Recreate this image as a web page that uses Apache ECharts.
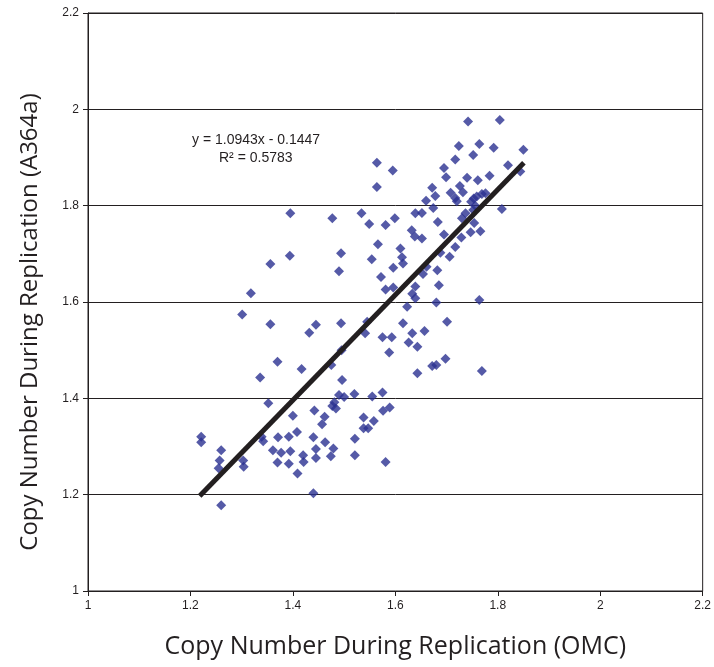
<!DOCTYPE html>
<html>
<head>
<meta charset="utf-8">
<script src="https://cdn.jsdelivr.net/npm/echarts@6/dist/echarts.min.js"></script>
<style>
html,body{margin:0;padding:0;background:#fff;}
#chart{width:714px;height:667px;}
</style>
</head>
<body>
<div id="chart"></div>
<script>
// Scatter values (OMC copy number, A364a copy number)
var omc = [1.394,1.356,1.318,1.301,1.356,1.370,1.336,1.417,1.352,1.400,1.408,1.221,1.221,1.260,1.257,1.255,1.303,1.304,1.339,1.342,
1.371,1.392,1.361,1.377,1.395,1.370,1.392,1.409,1.420,1.421,1.260,1.440,1.445,1.445,1.442,1.462,1.457,1.463,1.479,1.474,
1.481,1.484,1.477,1.490,1.520,1.496,1.521,1.521,1.440,1.445,1.494,1.432,1.545,1.541,1.615,1.633,1.575,1.593,1.626,1.643,
1.588,1.495,1.475,1.643,1.555,1.575,1.538,1.558,1.576,1.589,1.538,1.547,1.581,1.500,1.564,1.595,1.564,1.477,1.534,1.549,
1.581,1.599,1.639,1.632,1.638,1.652,1.566,1.494,1.554,1.610,1.613,1.615,1.596,1.490,1.572,1.581,1.596,1.639,1.633,1.639,
1.623,1.395,1.724,1.764,1.792,1.850,1.752,1.717,1.820,1.844,1.695,1.699,1.740,1.761,1.784,1.726,1.672,1.678,1.708,1.717,
1.732,1.720,1.753,1.759,1.769,1.776,1.748,1.756,1.752,1.660,1.674,1.808,1.652,1.683,1.737,1.730,1.754,1.747,1.766,1.695,
1.729,1.717,1.706,1.688,1.661,1.682,1.654,1.685,1.680,1.764,1.701,1.657,1.698,1.672,1.680,1.769,1.742,1.804];
var a364a = [1.696,1.679,1.618,1.574,1.554,1.476,1.443,1.461,1.390,1.364,1.330,1.320,1.309,1.292,1.271,1.255,1.271,1.258,1.320,1.311,
1.319,1.320,1.292,1.287,1.290,1.267,1.264,1.244,1.282,1.268,1.178,1.319,1.295,1.276,1.375,1.362,1.346,1.309,1.296,1.280,
1.392,1.379,1.384,1.407,1.409,1.438,1.316,1.282,1.203,1.553,1.556,1.536,1.559,1.535,1.556,1.535,1.527,1.527,1.516,1.507,
1.495,1.500,1.469,1.452,1.404,1.412,1.360,1.353,1.374,1.381,1.338,1.338,1.268,1.403,1.889,1.873,1.839,1.774,1.784,1.762,
1.760,1.774,1.784,1.749,1.736,1.732,1.720,1.701,1.689,1.711,1.693,1.680,1.671,1.664,1.652,1.626,1.630,1.632,1.617,1.608,
1.590,1.784,1.924,1.928,1.920,1.916,1.905,1.896,1.884,1.871,1.878,1.859,1.858,1.853,1.862,1.841,1.837,1.820,1.827,1.816,
1.828,1.809,1.815,1.819,1.824,1.826,1.808,1.800,1.791,1.810,1.795,1.793,1.785,1.766,1.784,1.774,1.764,1.745,1.747,1.740,
1.734,1.714,1.694,1.702,1.673,1.666,1.658,1.635,1.599,1.604,1.559,1.540,1.482,1.467,1.469,1.457,1.975,1.978];

// Trendline end points
var trendX = [1.218, 1.851];
var trendY = [1.197, 1.889];

var eqLine1 = 'y = 1.0943x - 0.1447';
var eqLine2 = 'R\u00B2 = 0.5783';

var xTitle = 'Copy Number During Replication (OMC)';
var yTitle = 'Copy Number During Replication (A364a)';

var pts = omc.map(function (x, i) { return [x, a364a[i]]; });
var trend = trendX.map(function (x, i) { return [x, trendY[i]]; });

var chart = echarts.init(document.getElementById('chart'), null, {renderer: 'canvas'});
var axisFont = {fontFamily: 'Liberation Sans', fontSize: 12, color: '#231f20'};
chart.setOption({
  animation: false,
  backgroundColor: '#fff',
  grid: {left: 88, top: 13, right: 10, bottom: 76, show: true, borderColor: '#231f20', borderWidth: 1, backgroundColor: 'transparent'},
  xAxis: {
    type: 'value', min: 1, max: 2.2, interval: 0.2,
    axisLine: {show: true, lineStyle: {color: '#231f20', width: 1}},
    axisTick: {show: true, length: 5, lineStyle: {color: '#231f20'}},
    splitLine: {show: false},
    axisLabel: Object.assign({margin: 9}, axisFont),
    name: xTitle, nameLocation: 'middle', nameGap: 43,
    nameTextStyle: {fontFamily: 'Open Sans', fontSize: 25, color: '#231f20'}
  },
  yAxis: {
    type: 'value', min: 1, max: 2.2, interval: 0.2,
    axisLine: {show: true, lineStyle: {color: '#231f20', width: 1}},
    axisTick: {show: true, length: 5, lineStyle: {color: '#231f20'}},
    splitLine: {show: true, lineStyle: {color: '#231f20', width: 1}},
    axisLabel: Object.assign({margin: 9}, axisFont),
    name: yTitle, nameLocation: 'middle', nameGap: 46, nameRotate: 90,
    nameTextStyle: {fontFamily: 'Open Sans', fontSize: 24, color: '#231f20', padding: [0, 40, 0, 0]}
  },
  graphic: [
    {type: 'text', left: 192, top: 133, style: {text: eqLine1, font: '14px "Liberation Sans"', fill: '#231f20'}},
    {type: 'text', left: 219, top: 151, style: {text: eqLine2, font: '14px "Liberation Sans"', fill: '#231f20'}}
  ],
  series: [
    {type: 'scatter', data: pts, symbol: 'diamond', symbolSize: 10,
     itemStyle: {color: '#2b3191'}, z: 2},
    {type: 'line', data: trend, symbol: 'none', lineStyle: {color: '#231f20', width: 5}, z: 3}
  ]
});
</script>
</body>
</html>
